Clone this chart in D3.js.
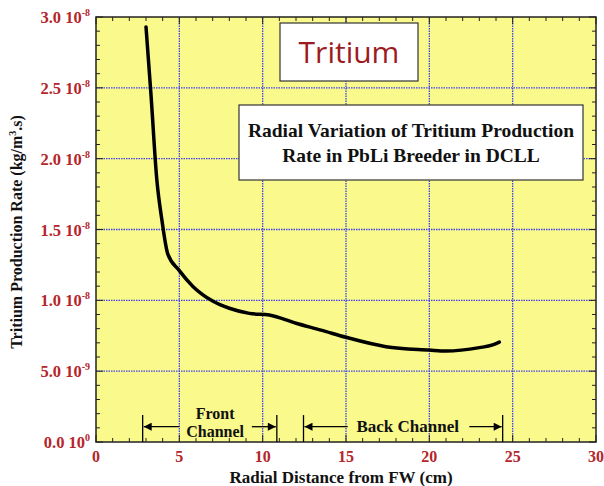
<!DOCTYPE html>
<html>
<head>
<meta charset="utf-8">
<script src="https://cdn.jsdelivr.net/npm/d3@7"></script>
<style>
  body { margin: 0; background: #fff; }
  svg { display: block; }
  text { font-family: "Liberation Serif", "Times New Roman", serif; font-weight: bold; }
</style>
</head>
<body>
<div id="chart"></div>
<script>
// radial distance (cm) and tritium production rate (units of 1e-8 kg/m3.s)
var radius = [3.0, 3.3, 3.65, 3.95, 4.3, 5.0, 5.8, 7.0, 8.0, 9.2, 10.4, 12.0, 13.5, 15.0, 17.4, 20.0, 21.0, 23.0, 23.8, 24.2];
var rate = [2.93, 2.45, 1.85, 1.57, 1.33, 1.21, 1.10, 0.995, 0.944, 0.908, 0.896, 0.838, 0.79, 0.739, 0.673, 0.649, 0.642, 0.666, 0.685, 0.705];

var xTicks = [0, 5, 10, 15, 20, 25, 30];
var yTicks = [0, 0.5, 1.0, 1.5, 2.0, 2.5, 3.0];
var yTickBase = ["0.0", "5.0", "1.0", "1.5", "2.0", "2.5", "3.0"];
var yTickExp = ["0", "-9", "-8", "-8", "-8", "-8", "-8"];

// channel spans (cm)
var frontChannel = [2.8, 10.85];
var backChannel = [12.45, 24.4];

var width = 604, height = 486;
var margin = {left: 96, top: 17, right: 8, bottom: 44};

var svg = d3.select("#chart").append("svg")
    .attr("width", width)
    .attr("height", height);

var x = d3.scaleLinear().domain([0, 30]).range([margin.left, width - margin.right]);
var y = d3.scaleLinear().domain([0, 3.0]).range([height - margin.bottom, margin.top]);

// plot background
svg.append("rect")
    .attr("x", x(0)).attr("y", y(3))
    .attr("width", x(30) - x(0)).attr("height", y(0) - y(3))
    .attr("fill", "#f9f98c");

// dotted grid
svg.append("g").selectAll("line")
    .data(xTicks.slice(1, -1))
    .enter().append("line")
    .attr("x1", d => x(d)).attr("x2", d => x(d))
    .attr("y1", y(0)).attr("y2", y(3))
    .attr("stroke", "#4040f0").attr("stroke-width", 1.3)
    .attr("stroke-dasharray", "1.5,1");
svg.append("g").selectAll("line")
    .data(yTicks.slice(1, -1))
    .enter().append("line")
    .attr("y1", d => y(d)).attr("y2", d => y(d))
    .attr("x1", x(0)).attr("x2", x(30))
    .attr("stroke", "#4040f0").attr("stroke-width", 1.3)
    .attr("stroke-dasharray", "1.5,1");

// inward ticks on all four sides
var xMinor = d3.range(0, 31, 1);
var yMinor = d3.range(0, 3.01, 0.1);

function tickLen(isMajor) { return isMajor ? 7 : 4; }

var ticks = svg.append("g").attr("stroke", "#222").attr("stroke-width", 1);
xMinor.forEach(function(v) {
    var len = tickLen(v % 5 == 0);
    ticks.append("line").attr("x1", x(v)).attr("x2", x(v)).attr("y1", y(0)).attr("y2", y(0) - len);
    ticks.append("line").attr("x1", x(v)).attr("x2", x(v)).attr("y1", y(3)).attr("y2", y(3) + len);
});
yMinor.forEach(function(v, i) {
    var len = tickLen(i % 5 == 0);
    ticks.append("line").attr("y1", y(v)).attr("y2", y(v)).attr("x1", x(0)).attr("x2", x(0) + len);
    ticks.append("line").attr("y1", y(v)).attr("y2", y(v)).attr("x1", x(30)).attr("x2", x(30) - len);
});

// frame
svg.append("rect")
    .attr("x", x(0)).attr("y", y(3))
    .attr("width", x(30) - x(0)).attr("height", y(0) - y(3))
    .attr("fill", "none").attr("stroke", "#222").attr("stroke-width", 1.5);

// tick labels
svg.append("g").selectAll("text")
    .data(xTicks)
    .enter().append("text")
    .attr("x", d => x(d))
    .attr("y", y(0) + 20)
    .attr("text-anchor", "middle")
    .attr("font-size", 16)
    .attr("fill", "#b5252b")
    .text(d => d);

var yLab = svg.append("g").selectAll("text")
    .data(yTicks)
    .enter().append("text")
    .attr("x", x(0) - 6)
    .attr("y", d => y(d) + 6)
    .attr("text-anchor", "end")
    .attr("font-size", 16.5)
    .attr("fill", "#b5252b");
yLab.append("tspan").text((d, i) => yTickBase[i] + " 10");
yLab.append("tspan").attr("dy", -7).attr("font-size", 10).text((d, i) => yTickExp[i]);

// axis titles
svg.append("text")
    .attr("x", 341).attr("y", 483)
    .attr("text-anchor", "middle")
    .attr("font-size", 17)
    .attr("fill", "#111")
    .text("Radial Distance from FW (cm)");

var yTitle = svg.append("text")
    .attr("transform", "translate(22," + 232 + ") rotate(-90)")
    .attr("text-anchor", "middle")
    .attr("font-size", 16)
    .attr("fill", "#111");
yTitle.append("tspan").text("Tritium Production Rate (kg/m");
yTitle.append("tspan").attr("dy", -6).attr("font-size", 10).text("3");
yTitle.append("tspan").attr("dy", 6).text(".s)");

// curve
var line = d3.line()
    .x((d, i) => x(radius[i]))
    .y((d, i) => y(rate[i]))
    .curve(d3.curveMonotoneX);

svg.append("path")
    .datum(rate)
    .attr("d", line)
    .attr("fill", "none")
    .attr("stroke", "#000")
    .attr("stroke-width", 3.5)
    .attr("stroke-linecap", "round")
    .attr("stroke-linejoin", "round");

// label boxes
svg.append("rect")
    .attr("x", 280).attr("y", 23)
    .attr("width", 138).attr("height", 58)
    .attr("fill", "#fff").attr("stroke", "#333").attr("stroke-width", 1.2);
svg.append("text")
    .attr("x", 349).attr("y", 63)
    .attr("text-anchor", "middle")
    .attr("font-size", 30)
    .style("font-weight", "normal")
    .style("font-family", "'Open Sans', 'Noto Sans', sans-serif")
    .attr("fill", "#9b1b1f")
    .text("Tritium");

svg.append("rect")
    .attr("x", 239).attr("y", 105)
    .attr("width", 344).attr("height", 75)
    .attr("fill", "#fff").attr("stroke", "#333").attr("stroke-width", 1.2);
svg.append("text")
    .attr("x", 411).attr("y", 137)
    .attr("text-anchor", "middle")
    .attr("font-size", 19.5)
    .attr("fill", "#111")
    .text("Radial Variation of Tritium Production");
svg.append("text")
    .attr("x", 411).attr("y", 162)
    .attr("text-anchor", "middle")
    .attr("font-size", 19.5)
    .attr("fill", "#111")
    .text("Rate in PbLi Breeder in DCLL");

// channel annotations
svg.append("defs").append("marker")
    .attr("id", "head")
    .attr("viewBox", "0 0 10 10")
    .attr("refX", 10).attr("refY", 5)
    .attr("markerWidth", 14).attr("markerHeight", 8)
    .attr("markerUnits", "userSpaceOnUse")
    .attr("orient", "auto")
    .append("path").attr("d", "M0,0 L10,5 L0,10 Z").attr("fill", "#000");

var arrowY = y(0.108);
var ann = svg.append("g").attr("stroke", "#000").attr("stroke-width", 1.3);
[frontChannel, backChannel].forEach(function(span) {
    ann.append("line").attr("x1", x(span[0])).attr("x2", x(span[0])).attr("y1", y(0.19)).attr("y2", y(0));
    ann.append("line").attr("x1", x(span[1])).attr("x2", x(span[1])).attr("y1", y(0.19)).attr("y2", y(0));
});
// front channel arrows
ann.append("line").attr("x1", x(5.0)).attr("x2", x(frontChannel[0]) + 1).attr("y1", arrowY).attr("y2", arrowY).attr("marker-end", "url(#head)");
ann.append("line").attr("x1", x(9.35)).attr("x2", x(frontChannel[1]) - 1).attr("y1", arrowY).attr("y2", arrowY).attr("marker-end", "url(#head)");
// back channel arrows
ann.append("line").attr("x1", x(15.1)).attr("x2", x(backChannel[0]) + 1).attr("y1", arrowY).attr("y2", arrowY).attr("marker-end", "url(#head)");
ann.append("line").attr("x1", x(22.4)).attr("x2", x(backChannel[1]) - 1).attr("y1", arrowY).attr("y2", arrowY).attr("marker-end", "url(#head)");

svg.append("text")
    .attr("x", x(7.15)).attr("y", 419)
    .attr("text-anchor", "middle").attr("font-size", 16).attr("fill", "#111")
    .text("Front");
svg.append("text")
    .attr("x", x(7.15)).attr("y", 437)
    .attr("text-anchor", "middle").attr("font-size", 16).attr("fill", "#111")
    .text("Channel");
svg.append("text")
    .attr("x", x(18.7)).attr("y", 432)
    .attr("text-anchor", "middle").attr("font-size", 17)
    .attr("fill", "#111")
    .text("Back Channel");
</script>
</body>
</html>
